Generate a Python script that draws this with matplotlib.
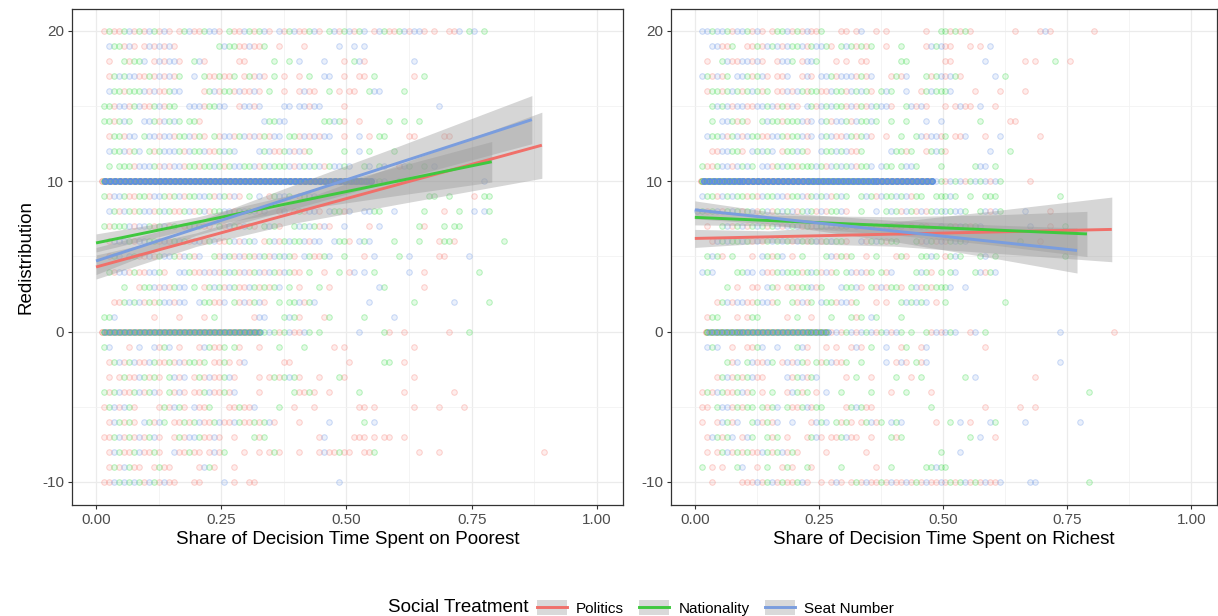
import numpy as np
import matplotlib
matplotlib.use("Agg")
import matplotlib.pyplot as plt
from matplotlib.colors import to_rgba
from matplotlib.patches import Patch
from matplotlib.lines import Line2D
from matplotlib.legend_handler import HandlerTuple

plt.rcParams['font.family'] = ['Liberation Sans', 'DejaVu Sans']
plt.rcParams['axes.unicode_minus'] = False

TREATMENTS = ["Politics", "Nationality", "Seat Number"]
CODES = ["r", "g", "b"]
Y_LEVELS = list(range(20, -11, -1))

# each row: one char per 0.01 of x (groups of 10), r/g/b = treatment,
# a = all three, B = all three with a heavy stack of seat-number points
POOREST_ROWS = [
    ".rgrrgbrgr bgrbr.rgbr rgbbr.grrb grgbr.brgb rrgbr.gbrg brgb.rbgrr gbrbbr.r.. rrb.gb.g..",
    "..bggrbr.r brbrbr.... ....gbggrr brrg..r... .r......b. .b.b......",
    "..r..grggb .rbrbbr..g br......rr .....g..g. b....b...r .gbr...... ...b......",
    "..rgbgbbrr grbrbrg..b .grrgrrg.r grbr.g.r.. r.g..bb..r ..rr.g.... ...r.g....",
    "..bggrgggb rbrrgbb... .rgbrggrbr rbr.g..r.. rbrr..g.r. rr..gbb... .g........",
    ".ggrbbrgbr rgbrgg..bb brggbb..rb brb....bb. bbrbb....r .......... ........b.",
    ".ggrgbg..b bgrbgbg.gg r......... ...bggbb.. .....ggbgr ..r.....g. .g..g.....",
    "..rggrbb.g bbrbbrggbr gr.grbbrgb rbrgrbb.gg rbrbrbb..r ..b.r.gg.. ..rr.....r r.........",
    "..bggbrgb. grgbbbgrbg gbrrgbgb.. ..bgbrrgbr brg......g ..b.g....g",
    "..g.gggrbb bgrbrbbrgg rggbgrgbbg gbrgbgggbr bgbgbrgbbg b..gb.gb.. rbg..g.b..",
    ".BBBBBBBBB BBBBBBBBBB BBBBBBBBBB BBBBBBBBBB BBBBBBBBBB BBBBBbgb.. b......... .......b..",
    ".grbbgrrgg rbbgrgbrgg bbgrbgrbr. g.b.rgbbg. rgbb...... .......... ......gg.. g....r.gg.",
    "..bgrbgrgb brgbgrrgbr gbrggbbrgb gbrb..rb.r grbbr.bggr b..bbgg..b .....g...r ..g..b.bg.",
    ".grgggbrbb grgbrg.rgb grr.grbgrb gr.gbgr..g bgbgrbr..b ....r.b... ....gr...g .gg.......",
    "..rbbbgrbb ggrbrgbgrb brgbrrgbrb gb.rgbrgbg gbrbb..bgg r.bgb....g ....g...rg gr........ .g........",
    "..rgb.bgrr brgbbgrbgr b..grbgrbr grbgrbgbgr .bgrrgb..g ...r.b.... g.b.....rr ....b.....",
    "..grbbrgrr bbgr..bbgr rbrbrgbgrb rgbrbgrbgr r.g..r..g. rb.b.g.... ..b..r.... ......g...",
    ".....g..rg gbrbrgbb.g .rgbgrbgrr bgrgrgb.g. r...g.r... ......bg.. .....r....",
    "...rrgbgbr grgbbrbb.. bggrrb.grb rgbr..g.gg brgb...... ....b..... ...g...... .b......g.",
    ".ggb...... .r....r... .r.g...... .rbb...gbg r....rg... ...g.....b",
    ".aaaaaaaaa aaaaaaaaaa aaaaaaaaaa aaagbgrgbr rbg.g..... ..b....gr. .r........ r...g.....",
    ".gb...r.b. .brgb.r... rbgrrg.gr. ..r...g... .g.....r.r .......... ...r......",
    "..rgbrgbrr bgrrgrbrgg rg.rrgr.rb .......rr. .......... r......gg. .r........",
    "..r.rgrrbg rgr.gbrb.r grbrrgbr.. ..r.rgrgbg r...r...gr .......... ...r......",
    ".grgbrrgbr gbr.grbr.r rgbrrgrb.. ..r......g rrgr..r... ..g....... .r........ .r........",
    ".rgbrbgr.. ..rgrbgr.b rrg...rrgr rb....g..r ...r...... ..rr.r.... ...r....r. ...r......",
    "..rbgrgr.b grbg.rrgrg brrgbrrbgr rgrgbr.... r.....b... ...g.b....",
    ".rrgbrgrbr gbr..rgrbb grrbr..r.. .grg...... ....rb.... .rrr.r.rr. .r........",
    "..rbgrrgbr rgr..brrgr r.rbrg...r ..r.rgr... r...rbrrgr r..rrg.... ....r...r. .......... .........r",
    "..rgrbgrr. .rgrr..... rbgr...r..",
    ".rrbgbgbgr bgrbrr...r r....b.r.. rr........ ........b.",
]

RICHEST_ROWS = [
    ".bbgbbgrbb grbr.rggbr grbrrg...r r.rb..r.r. ......r..g grgrgr.... ....r....r br........ r.........",
    "...bbrrg.. rrgrbgbrbg gbrgbbgr.g bgrgrg..r. .g....rbgb rr...r.r.b",
    "..r..gbrrb brbr..rbbg .rbbg...r. r..rr..... .gg....... rr......b. ......r.r. ..g..r....",
    ".bgrbrg.bb grgbr.rrb. .rbr.bbgrb bbrgrb...r grb...grgb rbgr...... b.g.......",
    "..rggrgbgr gbgrg.rrbr bgrggrrbgg rbgbgr.gbg ..b..rgbgg gb....r... .r....r...",
    "...gbgbrbb rrbbgbrgrb r.bgrbgbgg rbrgrbgbbr ..gbrbr... r.rbrr.b.. r.........",
    "...g.bbgrg r..gbggrgg gbrb.bgrbb grbggbg..g ..g...b..b .......g.. ...rr.....",
    "..bggbrgbr bggrrbbgrg gbrb.bgbrr bgrgbr..r. .g..gbrbbr g.rrb...r. .b.......r",
    "...rrbbggr .bgbgb.rgg bgr..bggbg brrg.....b ggrg..rgbg r........b ...g......",
    ".grrgbbrbg bg.bbrgbgg rgggbgrbgb gbrggb.bgg .gbbg....g ......gbb. g.........",
    ".BBBBBBBBB BBBBBBBBBB BBBBBBBBBB BBBBBBBBBB BBBBBBBBbg rbgbrgbgbr bg.....r..",
    ".bggrbgbgg rgrbggbbrg gbrgbgbrgb g..gbgrbgg bgbrgg..gg gbg..g..gg g......... ...g......",
    "bgrgbrgbgr gbrgbrgbgb rgbgrbrggb r..g..b.gb grbgrbrgbg bgbbg..gbr bg....b... .r........",
    "..r..gbrgb rgbgrgbrbg brgrbgbbrg g.r..gr.bg rb.r.gr..b .grbgrgb.. .......b.. .r..g.....",
    "...rbgbggb grbrgbgbgr bgrgbrgbgg r..brgbgrg g...grbgrb rgbgb..... .....g...r",
    "..gbgr.g.. .r.bgrgb.r .g....gbrg rg..r.g... rgr..ggbg. rgbg...gb. g......... ....g.....",
    ".bgb....gg bb.brrgbgg grgbgrbrg. gbrbrg.grb ....gbgr.g .gb...gbrg b.........",
    "......g.r. .rr.bgr.rg rggbrg...b ggbr.grbrg gr.gbrgrgg gb..b.....",
    "....rgbrbb rrgbbrg..g rbrg.bggrb brg...r.r. .gbgbgb.r. g......... ..g.......",
    "..rgg...r. rgg.....r. g..r...g.. .grg.bg... .g........",
    "..aaaaaaaa aaaaaaaaaa aaaaaaarbr gbrbgbrgbr bg.g..grbr bgb..rb.g. .......... ...b...... ....r.....",
    "..bgb..r.. rrgb..b... gbr...r.r. .rbr.g..b. .rg..rb... ........r.",
    "......grb. gbrrbg.rbr bgr.grgbrr g..g....b. rbr.grb... .......... .......... ...b......",
    "....rgbrgr gbrr....br gbrgb..... r.g..r.... g..r.g.... ....g.b... ........r.",
    ".rgrbgrrgb rg.r.g..rb grg.r.b..g .....g...r ..g....r.. .......... .......... .........g",
    ".rr.gbbrgr gg.grgb.gr rgbrgg.... rgbgrr.... .......g.. ........r. .....r..r.",
    ".r..rbgrb. .gbrgrb..b ...rbgb.gr gr.rgbrg.b gb......r. .g.b.r...b g.....b... .......b..",
    "..rbgrgb.r bg..grg.r. ..rgbr.rrg brr..r...g rg........ .....g.b.. r.........",
    "..r.rgbrgr grrbgrgbrg r.....r... ....r..... .........g ...b......",
    ".g.r.r..gb ..r.g..rgr ..gr.....g ......r..g ......ggbg g.........",
    "...r.....r rrbrgbrgrr gbr..r.rbr .rgrbrrgrb rrbrgrbrrb rgrgbrgrbr rb.....bb. .........g",
]

# fitted lines (start/end) and confidence band half-widths
POOREST_FIT_X = [[0.0, 0.89], [0.0, 0.79], [0.0, 0.87]]
POOREST_FIT_Y = [[4.3, 12.4], [5.9, 11.3], [4.7, 14.1]]
POOREST_BAND_X = [[0.0, 0.2, 0.4, 0.6, 0.89], [0.0, 0.2, 0.4, 0.6, 0.79], [0.0, 0.2, 0.4, 0.6, 0.87]]
POOREST_BAND_HW = [[0.8, 0.45, 0.7, 1.3, 2.2], [0.6, 0.35, 0.55, 0.95, 1.35], [0.9, 0.45, 0.8, 1.1, 1.6]]

RICHEST_FIT_X = [[0.0, 0.84], [0.0, 0.79], [0.0, 0.77]]
RICHEST_FIT_Y = [[6.2, 6.8], [7.6, 6.5], [8.1, 5.4]]
RICHEST_BAND_X = [[0.0, 0.15, 0.4, 0.6, 0.84], [0.0, 0.15, 0.4, 0.6, 0.79], [0.0, 0.15, 0.4, 0.6, 0.77]]
RICHEST_BAND_HW = [[0.6, 0.4, 0.8, 1.4, 2.15], [0.5, 0.35, 0.6, 1.0, 1.5], [0.6, 0.4, 0.7, 1.1, 1.5]]

HEAVY_STACK = 8  # overlapping seat-number observations in a 'B' cell
MIXED_STACK = 2  # overlapping observations per treatment in an 'a' cell

POINT_COLORS = {"r": "#F8766D", "g": "#2BDA3A", "b": "#5F8FE6"}
LINE_COLORS = {"r": "#F0706A", "g": "#3FC83F", "b": "#7A9DDE"}


def row_points(rows):
    pts = {c: ([], []) for c in CODES}
    for y, row in zip(Y_LEVELS, rows):
        cells = "".join(g.ljust(10, ".")[:10] for g in row.split())
        for i, ch in enumerate(cells):
            x = (i + 0.5) / 100
            if ch in "aB":
                for k, c in enumerate(CODES):
                    n = HEAVY_STACK if (ch == "B" and c == "b") else MIXED_STACK
                    for _ in range(n):
                        pts[c][0].append(x + (k - 1) * 0.003)
                        pts[c][1].append(y)
            elif ch in pts:
                pts[ch][0].append(x)
                pts[ch][1].append(y)
    return pts


def draw_panel(ax, rows, fit_x, fit_y, band_x, band_hw, xlabel):
    pts = row_points(rows)
    for c in CODES:
        ax.scatter(pts[c][0], pts[c][1], s=16, linewidths=0.7, zorder=1,
                   facecolors=to_rgba(POINT_COLORS[c], 0.13),
                   edgecolors=to_rgba(POINT_COLORS[c], 0.32))
    for k, c in enumerate(CODES):
        bx = np.array(band_x[k])
        centre = np.interp(bx, fit_x[k], fit_y[k])
        hw = np.array(band_hw[k])
        ax.fill_between(bx, centre - hw, centre + hw, color="#999999", alpha=0.4,
                        linewidth=0, zorder=2)
        ax.plot(fit_x[k], fit_y[k], color=LINE_COLORS[c], lw=2.1, zorder=3,
                solid_capstyle="butt")

    ax.set_xlim(-0.048, 1.052)
    ax.set_ylim(-11.53, 21.46)
    ax.set_xticks([0, 0.25, 0.5, 0.75, 1.0])
    ax.set_xticklabels(["0.00", "0.25", "0.50", "0.75", "1.00"])
    ax.set_xticks([0.125, 0.375, 0.625, 0.875], minor=True)
    ax.set_yticks([-10, 0, 10, 20])
    ax.set_yticks([-5, 5, 15], minor=True)
    ax.grid(which="major", color="#EBEBEB", lw=0.9)
    ax.grid(which="minor", color="#F2F2F2", lw=0.6)
    ax.set_axisbelow(True)
    ax.tick_params(which="major", length=3, width=0.8, color="#333333",
                   labelsize=11, labelcolor="#4D4D4D", pad=2.5)
    ax.tick_params(which="minor", length=0)
    for s in ax.spines.values():
        s.set_color("#333333")
        s.set_linewidth(0.9)
    ax.set_xlabel(xlabel, fontsize=13.5, labelpad=3)


def main():
    fig = plt.figure(figsize=(12.18, 6.16), dpi=100)
    ax1 = fig.add_axes([72 / 1218, 1 - 505 / 616, 551 / 1218, 496 / 616])
    ax2 = fig.add_axes([671 / 1218, 1 - 505 / 616, 546 / 1218, 496 / 616])

    draw_panel(ax1, POOREST_ROWS, POOREST_FIT_X, POOREST_FIT_Y, POOREST_BAND_X,
               POOREST_BAND_HW, "Share of Decision Time Spent on Poorest")
    draw_panel(ax2, RICHEST_ROWS, RICHEST_FIT_X, RICHEST_FIT_Y, RICHEST_BAND_X,
               RICHEST_BAND_HW, "Share of Decision Time Spent on Richest")
    ax1.set_ylabel("Redistribution", fontsize=13.5, labelpad=6)

    handles = [(Patch(facecolor="#D9D9D9", edgecolor="none"),
                Line2D([], [], color=LINE_COLORS[c], lw=2.1)) for c in CODES]
    fig.legend(handles, TREATMENTS, loc="center left", bbox_to_anchor=(537 / 1218, 1 - 608 / 616),
               ncol=3, frameon=False, fontsize=11, handlelength=1.96, handleheight=1.1,
               handletextpad=0.6, columnspacing=1.0, borderpad=0, borderaxespad=0,
               handler_map={tuple: HandlerTuple(ndivide=1)})
    fig.text(528 / 1218, 1 - 607 / 616, "Social Treatment", fontsize=13.5,
             ha="right", va="center")

    fig.savefig("out.png", dpi=100)


if __name__ == "__main__":
    main()
